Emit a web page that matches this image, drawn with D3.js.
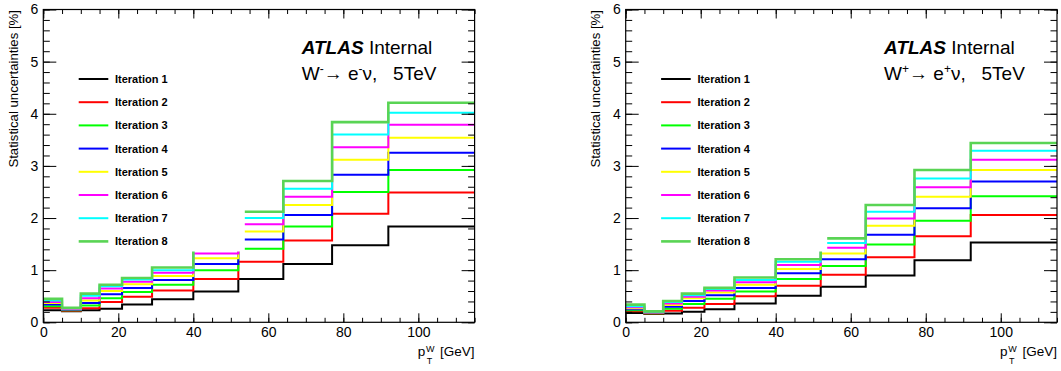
<!DOCTYPE html>
<html>
<head>
<meta charset="utf-8">
<script src="https://cdn.jsdelivr.net/npm/d3@7"></script>
<style>
  html, body { margin: 0; padding: 0; background: #fff; }
  svg { display: block; font-family: "Liberation Sans", Arial, Helvetica, sans-serif; }
  text { white-space: pre; }
</style>
</head>
<body>
<svg id="chart" width="1061" height="371"></svg>
<script>
// ---- data ----
const binEdges = [0, 5, 10, 15, 21, 29, 40, 52, 64, 77, 92, 115];
const iterationLabels = ["Iteration 1", "Iteration 2", "Iteration 3", "Iteration 4",
                         "Iteration 5", "Iteration 6", "Iteration 7", "Iteration 8"];
const iterationColors = ["#000000", "#ff0000", "#00ff00", "#0000ff",
                         "#ffff00", "#ff00ff", "#00ffff", "#59d454"];
const xTicks = [0, 20, 40, 60, 80, 100];
const yTicks = [0, 1, 2, 3, 4, 5, 6];

// W- -> e- nu : statistical uncertainty [%] per bin, iterations 1..8
const wMinusValues = [
  [0.23, 0.21, 0.23, 0.26, 0.34, 0.44, 0.59, 0.83, 1.12, 1.48, 1.84],
  [0.28, 0.22, 0.27, 0.39, 0.49, 0.61, 0.83, 1.16, 1.57, 2.08, 2.49],
  [0.31, 0.23, 0.32, 0.46, 0.58, 0.72, 1.00, 1.41, 1.84, 2.50, 2.92],
  [0.34, 0.24, 0.37, 0.54, 0.66, 0.81, 1.12, 1.59, 2.06, 2.83, 3.25],
  [0.37, 0.25, 0.42, 0.60, 0.73, 0.89, 1.23, 1.74, 2.25, 3.12, 3.54],
  [0.39, 0.26, 0.46, 0.65, 0.78, 0.95, 1.32, 1.88, 2.41, 3.36, 3.79],
  [0.42, 0.27, 0.51, 0.69, 0.82, 1.00, 1.42, 2.00, 2.56, 3.60, 4.02],
  [0.45, 0.28, 0.55, 0.72, 0.85, 1.05, 1.50, 2.12, 2.71, 3.84, 4.21]
];
// W+ -> e+ nu
const wPlusValues = [
  [0.18, 0.16, 0.17, 0.20, 0.25, 0.36, 0.51, 0.68, 0.90, 1.19, 1.53],
  [0.21, 0.17, 0.22, 0.28, 0.35, 0.50, 0.70, 0.91, 1.25, 1.65, 2.06],
  [0.23, 0.175, 0.26, 0.35, 0.45, 0.59, 0.83, 1.08, 1.49, 1.95, 2.42],
  [0.25, 0.18, 0.30, 0.41, 0.52, 0.66, 0.94, 1.21, 1.68, 2.19, 2.70],
  [0.27, 0.19, 0.33, 0.46, 0.57, 0.72, 1.02, 1.32, 1.85, 2.41, 2.92],
  [0.29, 0.195, 0.36, 0.49, 0.61, 0.77, 1.10, 1.43, 1.99, 2.59, 3.12],
  [0.31, 0.20, 0.39, 0.52, 0.64, 0.81, 1.16, 1.52, 2.12, 2.76, 3.29],
  [0.34, 0.21, 0.41, 0.55, 0.66, 0.86, 1.21, 1.61, 2.25, 2.92, 3.44]
];

const panels = [
  { values: wMinusValues, sign: "-", left: 43.3 },
  { values: wPlusValues,  sign: "+", left: 625.7 }
];

// ---- drawing ----
const svg = d3.select("#chart");
const plotW = 431.3, plotTop = 9.5, plotBottom = 322.3;
const font = '"Liberation Sans", Arial, Helvetica, sans-serif';

panels.forEach(p => {
  const g = svg.append("g").attr("transform", `translate(${p.left},0)`);
  const x = d3.scaleLinear().domain([0, 115]).range([0, plotW]);
  const y = d3.scaleLinear().domain([0, 6]).range([plotBottom, plotTop]);

  // histograms
  const line = d3.line().x(d => x(d[0])).y(d => y(d[1])).curve(d3.curveStepAfter);
  p.values.forEach((vals, i) => {
    const pts = vals.map((v, k) => [binEdges[k], v]);
    pts.push([binEdges[binEdges.length - 1], vals[vals.length - 1]]);
    g.append("path").attr("d", line(pts))
      .attr("fill", "none")
      .attr("stroke", iterationColors[i])
      .attr("stroke-width", i === 7 ? 2.6 : 2);
  });

  // legend (white box covering histograms)
  const lg = g.append("g");
  lg.append("rect").attr("x", 28).attr("y", 62).attr("width", 173.5).attr("height", 189.5)
    .attr("fill", "#fff");
  iterationLabels.forEach((lab, i) => {
    const cy = 79 + i * 23.2;
    lg.append("line").attr("x1", 35.4).attr("x2", 65).attr("y1", cy).attr("y2", cy)
      .attr("stroke", iterationColors[i]).attr("stroke-width", i === 7 ? 2.6 : 2);
    lg.append("text").attr("x", 71.7).attr("y", cy + 4)
      .attr("font-size", 11).attr("font-weight", "bold").attr("fill", "#000").text(lab);
  });

  // axes (inward ticks, mirrored)
  const xMajB = d3.axisBottom(x).tickValues(xTicks).tickSize(-9).tickPadding(5).tickFormat(d3.format("d"));
  const xMinB = d3.axisBottom(x).tickValues(d3.range(0, 116, 5)).tickSize(-4.5).tickFormat("");
  const xMajT = d3.axisTop(x).tickValues(xTicks).tickSize(-9).tickFormat("");
  const xMinT = d3.axisTop(x).tickValues(d3.range(0, 116, 5)).tickSize(-4.5).tickFormat("");
  const yMajL = d3.axisLeft(y).tickValues(yTicks).tickSize(-13).tickPadding(5).tickFormat(d3.format("d"));
  const yMinL = d3.axisLeft(y).tickValues(d3.range(0, 6.01, 0.2)).tickSize(-6.5).tickFormat("");
  const yMajR = d3.axisRight(y).tickValues(yTicks).tickSize(-13).tickFormat("");
  const yMinR = d3.axisRight(y).tickValues(d3.range(0, 6.01, 0.2)).tickSize(-6.5).tickFormat("");

  const addAxis = (ax, tr) => {
    const a = g.append("g").attr("transform", tr).call(ax);
    a.select(".domain").remove();
    a.selectAll("line").attr("stroke", "#000").attr("stroke-width", 1);
    a.selectAll("text").attr("font-size", 14).attr("font-family", font).attr("fill", "#000");
    return a;
  };
  addAxis(xMinB, `translate(0,${plotBottom})`);
  addAxis(xMajB, `translate(0,${plotBottom})`);
  addAxis(xMinT, `translate(0,${plotTop})`);
  addAxis(xMajT, `translate(0,${plotTop})`);
  addAxis(yMinL, `translate(0,0)`);
  addAxis(yMajL, `translate(0,0)`);
  addAxis(yMinR, `translate(${plotW},0)`);
  addAxis(yMajR, `translate(${plotW},0)`);

  // frame
  g.append("rect").attr("x", 0).attr("y", plotTop).attr("width", plotW).attr("height", plotBottom - plotTop)
    .attr("fill", "none").attr("stroke", "#000").attr("stroke-width", 1.2);

  // y title
  g.append("text").attr("transform", `translate(-25.5,${plotTop + 0.5}) rotate(-90)`)
    .attr("text-anchor", "end").attr("font-size", 13.2).attr("fill", "#000")
    .text("Statistical uncertainties [%]");

  // x title p_T^W [GeV]
  const xt = g.append("g").attr("font-size", 13.5).attr("fill", "#000");
  xt.append("text").attr("x", 374.4).attr("y", 355.5).text("p");
  xt.append("text").attr("x", 382.6).attr("y", 351.5).attr("font-size", 9).text("W");
  xt.append("text").attr("x", 383.4).attr("y", 363.5).attr("font-size", 9).text("T");
  xt.append("text").attr("x", plotW).attr("y", 355.5).attr("text-anchor", "end").text("[GeV]");

  // ATLAS label
  const at = g.append("text").attr("x", 258.4).attr("y", 54).attr("font-size", 19).attr("fill", "#000");
  at.append("tspan").attr("font-weight", "bold").attr("font-style", "italic").text("ATLAS");
  at.append("tspan").text(" Internal");

  const pr = g.append("text").attr("x", 258.4).attr("y", 80).attr("font-size", 19).attr("fill", "#000");
  pr.append("tspan").text("W");
  pr.append("tspan").attr("font-size", 12).attr("dy", -7).text(p.sign);
  pr.append("tspan").attr("dy", 7).text("\u2192 e");
  pr.append("tspan").attr("font-size", 12).attr("dy", -7).text(p.sign);
  pr.append("tspan").attr("dy", 7).text("\u03bd,\u00a0\u00a0\u00a05TeV");
});
</script>
</body>
</html>
